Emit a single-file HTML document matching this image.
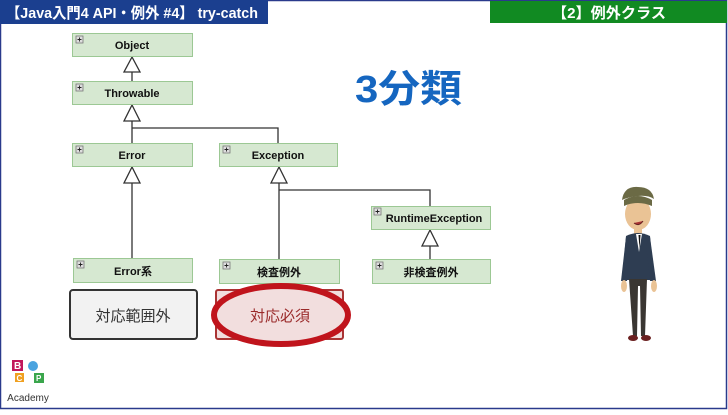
<!DOCTYPE html>
<html><head><meta charset="utf-8"><style>
html,body{margin:0;padding:0;background:#fff;}
body{width:728px;height:410px;overflow:hidden;font-family:"Liberation Sans","Noto Sans CJK JP",sans-serif;}
</style></head><body>
<svg width="728" height="410" viewBox="0 0 728 410" xmlns="http://www.w3.org/2000/svg" font-family="Liberation Sans, Noto Sans CJK JP, sans-serif">
<rect x="0.5" y="0.5" width="726" height="408" fill="#fff" stroke="#2a3a8c" stroke-width="1.5"/>
<rect x="0" y="0" width="268" height="24" fill="#1b3f8f"/>
<text x="6" y="18" font-size="15" font-weight="bold" fill="#fff" textLength="252" lengthAdjust="spacingAndGlyphs">【Java入門4 API・例外 #4】 try-catch</text>
<rect x="490" y="1" width="237" height="22" fill="#118a22"/>
<text x="552" y="18" font-size="15" font-weight="bold" fill="#fff" textLength="114" lengthAdjust="spacingAndGlyphs">【2】例外クラス</text>
<text x="355" y="102" font-size="38" font-weight="bold" fill="#1566c0" textLength="107" lengthAdjust="spacingAndGlyphs">3分類</text>
<g stroke="#333" stroke-width="1.3" fill="none">
<line x1="132" y1="72" x2="132" y2="81"/>
<line x1="132" y1="121" x2="132" y2="143"/>
<polyline points="132,128 278,128 278,143"/>
<line x1="132" y1="183" x2="132" y2="258"/>
<line x1="279" y1="183" x2="279" y2="259"/>
<polyline points="279,190 430,190 430,206"/>
<line x1="430" y1="246" x2="430" y2="259"/>
</g>
<g stroke="#333" stroke-width="1.3" fill="#fff">
<polygon points="132,57 124,72 140,72"/>
<polygon points="132,105 124,121 140,121"/>
<polygon points="132,167 124,183 140,183"/>
<polygon points="279,167 271,183 287,183"/>
<polygon points="430,230 422,246 438,246"/>
</g>
<g font-size="11" font-weight="bold" fill="#111" text-anchor="middle">
<rect x="72.5" y="33.5" width="120" height="23" fill="#d6e8d1" stroke="#9cc894"/>
<text x="132" y="49">Object</text>
<rect x="72.5" y="81.5" width="120" height="23" fill="#d6e8d1" stroke="#9cc894"/>
<text x="132" y="97">Throwable</text>
<rect x="72.5" y="143.5" width="120" height="23" fill="#d6e8d1" stroke="#9cc894"/>
<text x="132" y="159">Error</text>
<rect x="219.5" y="143.5" width="118" height="23" fill="#d6e8d1" stroke="#9cc894"/>
<text x="278" y="159">Exception</text>
<rect x="371.5" y="206.5" width="119" height="23" fill="#d6e8d1" stroke="#9cc894"/>
<text x="434" y="222">RuntimeException</text>
<rect x="73.5" y="258.5" width="119" height="24" fill="#d6e8d1" stroke="#9cc894"/>
<text x="133" y="275">Error系</text>
<rect x="219.5" y="259.5" width="120" height="24" fill="#d6e8d1" stroke="#9cc894"/>
<text x="279" y="276">検査例外</text>
<rect x="372.5" y="259.5" width="118" height="24" fill="#d6e8d1" stroke="#9cc894"/>
<text x="431" y="276">非検査例外</text>
</g>
<g fill="#ddd" stroke="#777" stroke-width="0.8">
<rect x="76" y="36" width="7" height="7"/><rect x="76" y="84" width="7" height="7"/>
<rect x="76" y="146" width="7" height="7"/><rect x="223" y="146" width="7" height="7"/>
<rect x="374" y="208" width="7" height="7"/><rect x="77" y="261" width="7" height="7"/>
<rect x="223" y="262" width="7" height="7"/><rect x="376" y="262" width="7" height="7"/>
</g>
<g stroke="#222" stroke-width="0.9">
<path d="M77.5 39.5h4M79.5 37.5v4M77.5 87.5h4M79.5 85.5v4M77.5 149.5h4M79.5 147.5v4M224.5 149.5h4M226.5 147.5v4M375.5 211.5h4M377.5 209.5v4M78.5 264.5h4M80.5 262.5v4M224.5 265.5h4M226.5 263.5v4M377.5 265.5h4M379.5 263.5v4"/>
</g>
<rect x="70" y="290" width="127" height="49" rx="3" fill="#f2f2f2" stroke="#333" stroke-width="2"/>
<text x="133" y="321" font-size="15" fill="#333" text-anchor="middle">対応範囲外</text>
<rect x="216" y="290" width="127" height="49" rx="2" fill="#f2dede" stroke="#a33" stroke-width="2"/>
<ellipse cx="281" cy="315" rx="67" ry="29" fill="#f2dede" stroke="#c0141c" stroke-width="6"/>
<text x="280" y="321" font-size="15" fill="#9a2a2a" text-anchor="middle">対応必須</text>
<g>
<path d="M622 200 q2 -14 16 -13 q14 0 16 12 q-6 -4 -16 -3 q-10 1 -16 4z" fill="#6b6a45"/>
<ellipse cx="638" cy="214" rx="13" ry="16" fill="#eac395"/>
<path d="M624 200 q14 -8 28 0 l0 6 q-14 -6 -28 0z" fill="#6b6a45"/>
<path d="M634 223 q5 4 9 -2" fill="#a33" stroke="#622" stroke-width="1"/>
<rect x="634" y="228" width="8" height="6" fill="#eac395"/>
<path d="M626 236 q12 -6 24 0 l4 44 l-32 0z" fill="#2e3d52"/>
<path d="M636 234 l3 18 l3 -18z" fill="#fff"/>
<path d="M638.5 235 l1 14 l1 -14z" fill="#111"/>
<path d="M626 237 l-5 44 l6 0 l4 -36z" fill="#2e3d52"/>
<path d="M650 237 l6 44 l-6 0 l-4 -36z" fill="#2e3d52"/>
<ellipse cx="624" cy="286" rx="3" ry="6" fill="#eac395"/>
<ellipse cx="654" cy="286" rx="3" ry="6" fill="#eac395"/>
<path d="M629 279 l4 57 l4 0 l1 -50 l2 0 l1 50 l4 0 l2 -57z" fill="#3a3632"/>
<ellipse cx="633" cy="338" rx="5" ry="3" fill="#6a2020"/>
<ellipse cx="646" cy="338" rx="5" ry="3" fill="#6a2020"/>
</g>
<g font-weight="bold" font-size="10" fill="#fff">
<rect x="12" y="360" width="11" height="11" fill="#c2185b"/><text x="14" y="369">B</text>
<rect x="15" y="373" width="9" height="9" fill="#f0a020"/><text x="16.5" y="381" font-size="8">C</text>
<circle cx="33" cy="366" r="5" fill="#4aa3df"/>
<rect x="34" y="373" width="10" height="10" fill="#3aa64c"/><text x="36" y="381" font-size="8">P</text>
</g>
<text x="28" y="401" font-size="10" fill="#333" text-anchor="middle">Academy</text>
</svg>
</body></html>
